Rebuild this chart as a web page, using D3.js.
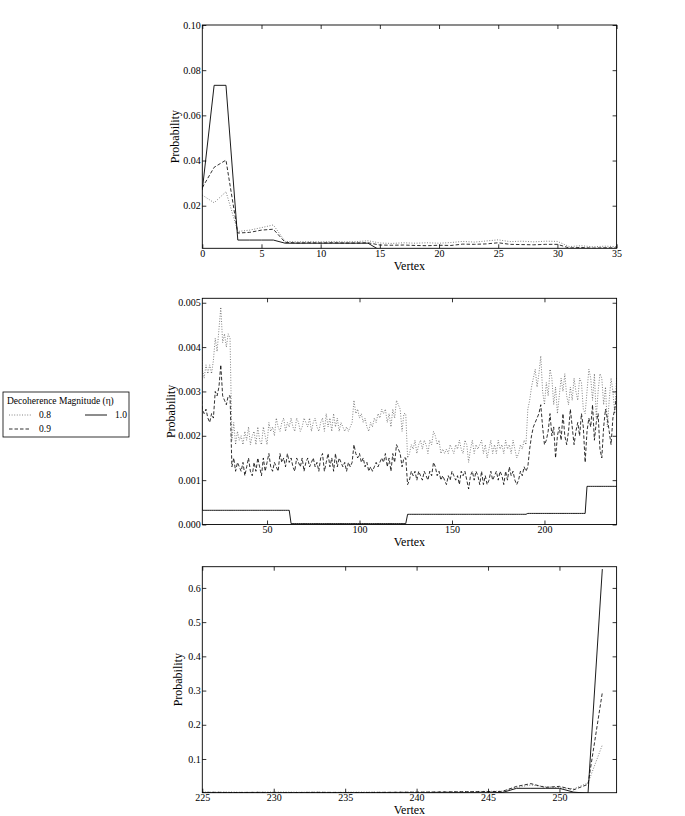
<!DOCTYPE html>
<html><head><meta charset="utf-8">
<script src="https://cdn.jsdelivr.net/npm/d3@7"></script>
<style>
body{margin:0;background:#fff}
svg text{font-family:"Liberation Serif","Times New Roman",serif !important;fill:#000}
</style>
</head><body>
<svg id="chart" width="685" height="816"></svg>
<script>
// ---------------- DATA (probability per vertex, vertices 0..253) ----------------
const seriesLabels = ["0.8", "0.9", "1.0"];
const legendTitle = "Decoherence Magnitude (\u03B7)";

const eta08 = [
0.0247,0.0213,0.0262,0.0086,0.0092,0.0103,0.0115,0.0042,0.0040,0.0041,
0.0040,0.0041,0.0040,0.0041,0.0045,0.0035,0.0033,0.0036,0.0034,0.0036,
0.0034,0.0037,0.0042,0.0039,0.0044,0.0049,0.0041,0.0043,0.0040,0.0043,
0.0042,0.0019,0.0023,0.0018,0.0021,0.0019,0.0020,0.0018,0.0021,0.0019,
0.0022,0.0018,0.0020,0.0021,0.0018,0.0022,0.0019,0.0018,0.0022,0.0020,
0.0018,0.0023,0.0021,0.0022,0.0020,0.0024,0.0022,0.0021,0.0023,0.0024,
0.0021,0.0023,0.0022,0.0024,0.0022,0.0021,0.0024,0.0023,0.0021,0.0022,
0.0024,0.0023,0.0022,0.0024,0.0021,0.0023,0.0024,0.0022,0.0021,0.0023,
0.0024,0.0021,0.0025,0.0022,0.0024,0.0021,0.0025,0.0022,0.0024,0.0021,
0.0023,0.0022,0.0021,0.0022,0.0021,0.0022,0.0023,0.0028,0.0025,0.0026,
0.0024,0.0025,0.0023,0.0024,0.0022,0.0021,0.0023,0.0022,0.0024,0.0023,
0.0025,0.0024,0.0026,0.0025,0.0026,0.0023,0.0025,0.0022,0.0026,0.0024,
0.0028,0.0027,0.0026,0.0021,0.0025,0.0025,0.0015,0.0016,0.0018,0.0017,
0.0019,0.0016,0.0018,0.0019,0.0017,0.0019,0.0018,0.0016,0.0019,0.0018,
0.0021,0.0020,0.0018,0.0019,0.0016,0.0017,0.0016,0.0017,0.0016,0.0018,
0.0017,0.0016,0.0018,0.0017,0.0019,0.0017,0.0016,0.0019,0.0018,0.0014,
0.0017,0.0019,0.0016,0.0018,0.0017,0.0018,0.0019,0.0016,0.0018,0.0015,
0.0017,0.0019,0.0016,0.0018,0.0016,0.0019,0.0017,0.0018,0.0016,0.0019,
0.0017,0.0018,0.0016,0.0019,0.0017,0.0015,0.0016,0.0018,0.0017,0.0019,
0.0018,0.0026,0.0028,0.0031,0.0033,0.0035,0.0031,0.0034,0.0038,0.0030,
0.0027,0.0032,0.0029,0.0035,0.0033,0.0027,0.0031,0.0025,0.0029,0.0033,
0.0030,0.0034,0.0029,0.0027,0.0031,0.0028,0.0033,0.0030,0.0028,0.0033,
0.0032,0.0026,0.0025,0.0030,0.0035,0.0033,0.0028,0.0034,0.0024,0.0030,
0.0034,0.0033,0.0027,0.0031,0.0022,0.0028,0.0033,0.0030,0.0025,0.0033,
0.0030,0.0035,0.0040,0.0045,0.0050,0.0055,0.0060,0.0170,0.0240,0.0190,
0.0160,0.0130,0.0300,0.1410
];

const eta09 = [
0.0280,0.0370,0.0402,0.0079,0.0082,0.0092,0.0096,0.0038,0.0035,0.0036,
0.0035,0.0036,0.0035,0.0035,0.0036,0.0026,0.0025,0.0026,0.0024,0.0023,
0.0025,0.0024,0.0030,0.0029,0.0031,0.0036,0.0029,0.0028,0.0027,0.0029,
0.0029,0.0013,0.0015,0.0012,0.0014,0.0013,0.0012,0.0014,0.0011,0.0013,
0.0015,0.0012,0.0011,0.0014,0.0012,0.0015,0.0013,0.0011,0.0015,0.0012,
0.0014,0.0016,0.0013,0.0012,0.0014,0.0013,0.0012,0.0016,0.0014,0.0015,
0.0013,0.0016,0.0014,0.0015,0.0013,0.0012,0.0015,0.0014,0.0013,0.0015,
0.0012,0.0014,0.0015,0.0013,0.0014,0.0015,0.0013,0.0014,0.0012,0.0015,
0.0016,0.0012,0.0014,0.0016,0.0013,0.0015,0.0012,0.0016,0.0013,0.0015,
0.0014,0.0013,0.0014,0.0012,0.0014,0.0013,0.0014,0.0018,0.0016,0.0015,
0.0016,0.0014,0.0015,0.0013,0.0014,0.0012,0.0013,0.0012,0.0013,0.0014,
0.0013,0.0014,0.0015,0.0014,0.0016,0.0013,0.0015,0.0012,0.0016,0.0014,
0.0018,0.0017,0.0016,0.0013,0.0015,0.0015,0.0009,0.0010,0.0012,0.0011,
0.0012,0.0010,0.0012,0.0011,0.0010,0.0012,0.0011,0.0010,0.0012,0.0011,
0.0014,0.0013,0.0011,0.0012,0.0010,0.0011,0.0010,0.0009,0.0011,0.0010,
0.0012,0.0011,0.0010,0.0011,0.0009,0.0012,0.0011,0.0012,0.0010,0.0008,
0.0011,0.0012,0.0010,0.0012,0.0011,0.0009,0.0012,0.0009,0.0011,0.0009,
0.0010,0.0012,0.0010,0.0011,0.0012,0.0010,0.0012,0.0011,0.0009,0.0012,
0.0010,0.0013,0.0011,0.0012,0.0010,0.0009,0.0010,0.0012,0.0011,0.0013,
0.0012,0.0013,0.0017,0.0020,0.0022,0.0023,0.0024,0.0025,0.0027,0.0022,
0.0018,0.0019,0.0021,0.0025,0.0020,0.0022,0.0015,0.0020,0.0022,0.0019,
0.0025,0.0020,0.0018,0.0021,0.0026,0.0022,0.0018,0.0021,0.0023,0.0020,
0.0025,0.0022,0.0014,0.0021,0.0024,0.0022,0.0027,0.0019,0.0023,0.0025,
0.0017,0.0015,0.0022,0.0026,0.0024,0.0021,0.0018,0.0024,0.0026,0.0029,
0.0030,0.0035,0.0040,0.0042,0.0045,0.0048,0.0052,0.0200,0.0280,0.0170,
0.0200,0.0100,0.0260,0.2940
];

const eta10 = [
0.0270,0.0733,0.0733,0.0048,0.0048,0.0048,0.0048,0.0034,0.0034,0.0034,
0.0034,0.0034,0.0034,0.0034,0.0034,0.00032,0.00032,0.00032,0.00032,0.00032,
0.00032,0.00032,0.00032,0.00032,0.00032,0.00032,0.00032,0.00032,0.00032,0.00032,
0.00032,0.00032,0.00032,0.00032,0.00032,0.00032,0.00032,0.00032,0.00032,0.00032,
0.00032,0.00032,0.00032,0.00032,0.00032,0.00032,0.00032,0.00032,0.00032,0.00032,
0.00032,0.00032,0.00032,0.00032,0.00032,0.00032,0.00032,0.00032,0.00032,0.00032,
0.00032,0.00032,0.00032,0.00002,0.00002,0.00002,0.00002,0.00002,0.00002,0.00002,
0.00002,0.00002,0.00002,0.00002,0.00002,0.00002,0.00002,0.00002,0.00002,0.00002,
0.00002,0.00002,0.00002,0.00002,0.00002,0.00002,0.00002,0.00002,0.00002,0.00002,
0.00002,0.00002,0.00002,0.00002,0.00002,0.00002,0.00002,0.00002,0.00002,0.00002,
0.00002,0.00002,0.00002,0.00002,0.00002,0.00002,0.00002,0.00002,0.00002,0.00002,
0.00002,0.00002,0.00002,0.00002,0.00002,0.00002,0.00002,0.00002,0.00002,0.00002,
0.00002,0.00002,0.00002,0.00002,0.00002,0.00002,0.00023,0.00023,0.00023,0.00023,
0.00023,0.00023,0.00023,0.00023,0.00023,0.00023,0.00023,0.00023,0.00023,0.00023,
0.00023,0.00023,0.00023,0.00023,0.00023,0.00023,0.00023,0.00023,0.00023,0.00023,
0.00023,0.00023,0.00023,0.00023,0.00023,0.00023,0.00023,0.00023,0.00023,0.00023,
0.00023,0.00023,0.00023,0.00023,0.00023,0.00023,0.00023,0.00023,0.00023,0.00023,
0.00023,0.00023,0.00023,0.00023,0.00023,0.00023,0.00023,0.00023,0.00023,0.00023,
0.00023,0.00023,0.00023,0.00023,0.00023,0.00023,0.00023,0.00023,0.00023,0.00023,
0.00023,0.00025,0.00025,0.00025,0.00025,0.00025,0.00025,0.00025,0.00025,0.00025,
0.00025,0.00025,0.00025,0.00025,0.00025,0.00025,0.00025,0.00025,0.00025,0.00025,
0.00025,0.00025,0.00025,0.00025,0.00025,0.00025,0.00025,0.00025,0.00025,0.00025,
0.00025,0.00025,0.00025,0.00086,0.00086,0.00086,0.00086,0.00086,0.00086,0.00086,
0.00086,0.00086,0.00086,0.00086,0.00086,0.00086,0.00086,0.00086,0.00086,0.00086,
0.00086,0.00086,0.00086,0.00086,0.00086,0.00086,0.0020,0.0143,0.0143,0.0143,
0.0143,0.0030,0.0001,0.6550
];

const topXTicks = [0, 5, 10, 15, 20, 25, 30, 35];
const topYTicks = [0.02, 0.04, 0.06, 0.08, 0.10];
const midXTicks = [50, 100, 150, 200];
const midYTicks = [0.000, 0.001, 0.002, 0.003, 0.004, 0.005];
const botXTicks = [225, 230, 235, 240, 245, 250];
const botYTicks = [0.1, 0.2, 0.3, 0.4, 0.5, 0.6];

// ---------------- LAYOUT ----------------
const FONT = "'Liberation Serif', 'Times New Roman', serif";
const svg = d3.select("#chart");
const left = 202.3, right = 616.6;
const panels = [
  {x: [0, 35],    y: [0.00115, 0.10], top: 25,    bottom: 248.3, xt: topXTicks, yt: topYTicks, yf: d3.format(".2f"), ylx: 176},
  {x: [15, 239],  y: [0, 0.0051],     top: 298.3, bottom: 524.5, xt: midXTicks, yt: midYTicks, yf: d3.format(".3f"), ylx: 172},
  {x: [225, 254], y: [0.0015, 0.662], top: 566.7, bottom: 792.7, xt: botXTicks, yt: botYTicks, yf: d3.format(".1f"), ylx: 179}
];

const series = [
  {vals: eta08, stroke: "#000", width: 0.9, dash: "1,1.6", opacity: 0.55},
  {vals: eta09, stroke: "#000", width: 0.9, dash: "3.5,2", opacity: 0.9},
  {vals: eta10, stroke: "#000", width: 0.9, dash: null, opacity: 1}
];

const defs = svg.append("defs");

panels.forEach((p, pi) => {
  const x = d3.scaleLinear().domain(p.x).range([left, right]);
  const y = d3.scaleLinear().domain(p.y).range([p.bottom, p.top]);
  const g = svg.append("g");
  const cid = "clip" + pi;
  defs.append("clipPath").attr("id", cid).append("rect")
    .attr("x", left).attr("y", p.top).attr("width", right - left).attr("height", p.bottom - p.top);

  const lines = g.append("g").attr("clip-path", `url(#${cid})`);
  series.forEach(s => {
    const line = d3.line().x((d, i) => x(i)).y(d => y(d));
    lines.append("path").datum(s.vals)
      .attr("d", line)
      .attr("fill", "none")
      .attr("stroke", s.stroke)
      .attr("stroke-width", s.width)
      .attr("stroke-opacity", s.opacity)
      .attr("stroke-dasharray", s.dash)
      .attr("stroke-linejoin", "round");
  });

  // axes (ticks pointing inwards, on all four sides)
  const tl = 4;
  const axB = d3.axisBottom(x).tickValues(p.xt).tickSize(-tl).tickPadding(1.5).tickFormat(d3.format("d"));
  const axT = d3.axisTop(x).tickValues(p.xt).tickSize(-tl).tickFormat("");
  const axL = d3.axisLeft(y).tickValues(p.yt).tickSize(-tl).tickPadding(1.5).tickFormat(p.yf);
  const axR = d3.axisRight(y).tickValues(p.yt).tickSize(-tl).tickFormat("");

  const styleAxis = sel => {
    sel.attr("font-family", null).attr("font-size", null);
    sel.select(".domain").remove();
    sel.selectAll(".tick line").attr("stroke", "#000").attr("stroke-width", 0.8);
    sel.selectAll("text").style("font-family", FONT).style("font-size", "10px");
  };
  g.append("g").attr("transform", `translate(0,${p.bottom})`).call(axB).call(styleAxis);
  g.append("g").attr("transform", `translate(0,${p.top})`).call(axT).call(styleAxis);
  g.append("g").attr("transform", `translate(${left},0)`).call(axL).call(styleAxis);
  g.append("g").attr("transform", `translate(${right},0)`).call(axR).call(styleAxis);

  g.append("rect").attr("x", left).attr("y", p.top)
    .attr("width", right - left).attr("height", p.bottom - p.top)
    .attr("fill", "none").attr("stroke", "#000").attr("stroke-width", 0.9);

  g.append("text").attr("x", (left + right) / 2).attr("y", p.bottom + 21.5)
    .attr("text-anchor", "middle").style("font-family", FONT).style("font-size", "12px").text("Vertex");
  g.append("text")
    .attr("transform", `translate(${p.ylx},${(p.top + p.bottom) / 2}) rotate(-90)`)
    .attr("text-anchor", "middle").attr("dominant-baseline", "middle")
    .style("font-family", FONT).style("font-size", "12px").text("Probability");
});

// ---------------- LEGEND ----------------
const lg = svg.append("g");
const lx = 3, ly = 392, lw = 126, lh = 45;
lg.append("rect").attr("x", lx).attr("y", ly).attr("width", lw).attr("height", lh)
  .attr("fill", "#fff").attr("stroke", "#000").attr("stroke-width", 0.8);
lg.append("text").attr("x", lx + 4).attr("y", ly + 12)
  .style("font-family", FONT).style("font-size", "9.5px").text(legendTitle);
const legendPos = [
  {sx: lx + 6, ty: ly + 26},
  {sx: lx + 6, ty: ly + 40},
  {sx: lx + 82, ty: ly + 26}
];
series.forEach((s, i) => {
  const pos = legendPos[i];
  lg.append("line").attr("x1", pos.sx).attr("x2", pos.sx + 22)
    .attr("y1", pos.ty - 3).attr("y2", pos.ty - 3)
    .attr("stroke", s.stroke).attr("stroke-width", s.width)
    .attr("stroke-opacity", s.opacity).attr("stroke-dasharray", s.dash);
  lg.append("text").attr("x", pos.sx + 30).attr("y", pos.ty)
    .style("font-family", FONT).style("font-size", "9.5px").text(seriesLabels[i]);
});
</script>
</body></html>
